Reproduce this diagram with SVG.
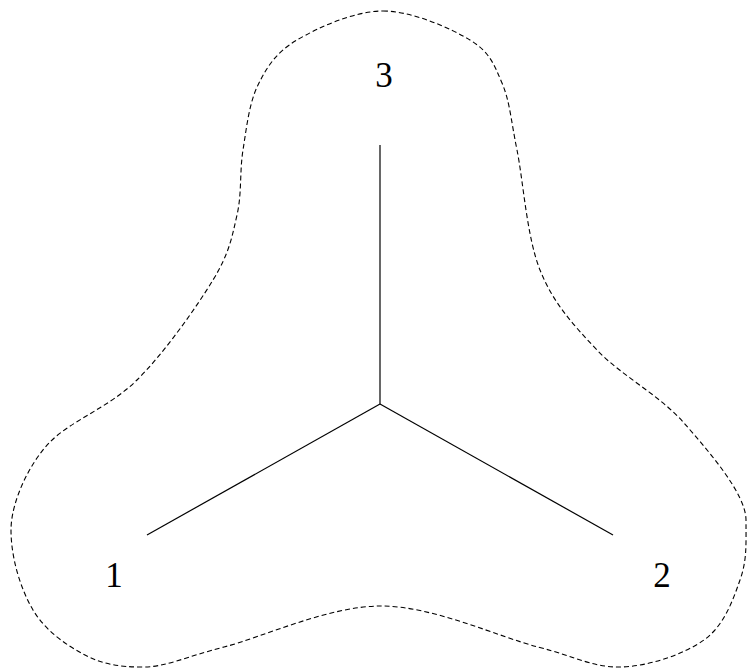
<svg xmlns="http://www.w3.org/2000/svg" width="747" height="668" viewBox="0 0 747 668">
<style>
.outline{fill:none;stroke:#000;stroke-width:1.1;stroke-dasharray:5 3}
.edge{fill:none;stroke:#000;stroke-width:1.2}
.lbl{font-family:"Liberation Serif","Times New Roman",serif;font-size:35px;fill:#000;text-anchor:middle}
</style>
<rect width="747" height="668" fill="#fff"/>
<path id="outline" class="outline" d="M383,11 C411.8,11 450.2,28 470,40 C489.8,52 494.2,64.7 502,83 C509.8,101.3 510.7,118.8 517,150 C523.3,181.2 526.7,236.7 540,270 C553.3,303.3 573,324.5 597,350 C621,375.5 659.2,394.7 684,423 C708.8,451.3 746,494 746,520 C746,546 747,560 740,580 C733,600 724.2,625.5 704,640 C683.8,654.5 646.7,667 619,667 C591.3,667 577.7,657.2 538,647 C498.3,636.8 433.3,606 381,606 C328.7,606 263.7,636.8 224,647 C184.3,657.2 166.2,667 143,667 C119.8,667 103.3,664.5 85,655 C66.7,645.5 45.3,630.8 33,610 C20.7,589.2 11,558 11,530 C11,502 29.3,463.2 50,442 C70.7,420.8 109.8,407 137,380 C164.2,353 196.3,307.5 213,280 C229.7,252.5 232,236.7 237,215 C242,193.3 239.5,171.7 243,150 C246.5,128.3 249,103.3 258,85 C267,66.7 276.2,52.3 297,40 C317.8,27.7 354.2,11 383,11 Z"/>
<g id="connectors">
<line class="edge" x1="380" y1="404" x2="380" y2="145"/>
<line class="edge" x1="380" y1="404" x2="147" y2="535"/>
<line class="edge" x1="380" y1="404" x2="613" y2="535"/>
</g>
<g id="node1"><text class="lbl" x="114" y="587">1</text></g>
<g id="node2"><text class="lbl" x="662" y="587">2</text></g>
<g id="node3"><text class="lbl" x="384" y="87">3</text></g>
</svg>
